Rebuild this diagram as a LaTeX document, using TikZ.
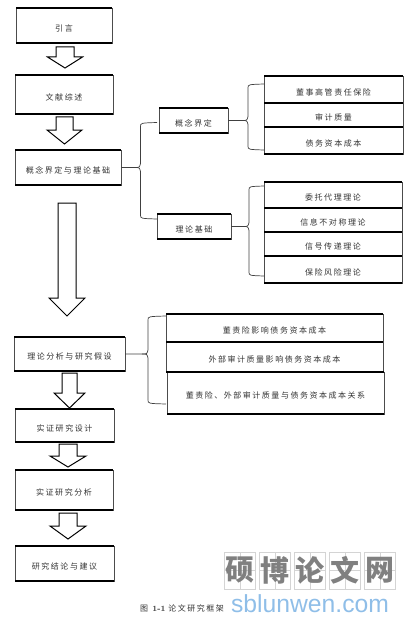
\documentclass[tikz,border=0pt]{standalone}
\usepackage{fontspec}
\newfontfamily\cjk[LetterSpace=19]{Noto Sans CJK SC}
\newfontfamily\markfont{Noto Sans CJK SC}
\newfontfamily\sitefont{Liberation Sans}
\usetikzlibrary{calc}
\definecolor{sitecol}{RGB}{143,190,232}
\definecolor{markline}{RGB}{212,212,212}
\newcommand{\bracelink}[4]{
  \draw[brace] let \p1=(#1.east),\p2=(#3),\p3=(#4),\n1={#2pt} in
    (\x1,\y1) -- (\n1-6pt,\y1) .. controls (\n1-1pt,\y1) .. (\n1,\y1+4pt)
    -- (\n1,\y2-4pt) .. controls (\n1,\y2-0.5pt) .. (\x2,\y2);
  \draw[brace] let \p1=(#1.east),\p2=(#3),\p3=(#4),\n1={#2pt} in
    (\n1-6pt,\y1) .. controls (\n1-1pt,\y1) .. (\n1,\y1-4pt)
    -- (\n1,\y3+4pt) .. controls (\n1,\y3+0.5pt) .. (\x3,\y3);
}
\begin{document}
\begin{tikzpicture}[x=1pt,y=-1pt,
  stagebox/.style={draw=black!70,line width=0.6pt,inner sep=0pt,outer sep=0pt,
    text=black!80,text height=11.7pt,text depth=0pt,font=\cjk\fontsize{8}{9}\selectfont,
    append after command={
      (\tikzlastnode.north west) edge[draw=black,line width=1.3pt] (\tikzlastnode.north east)
      (\tikzlastnode.south west) edge[draw=black,line width=1.3pt] (\tikzlastnode.south east)}},
  brace/.style={draw,black!75,line width=0.7pt},
  blockarrow/.style n args={3}{draw,fill=white,line width=1pt,
    to path={let \p1=(\tikztostart),\p2=(\tikztotarget) in
      (\x1-#1pt,\y1) -- (\x1+#1pt,\y1) -- (\x1+#1pt,\y2+#3pt) -- (\x1+#2pt,\y2+#3pt)
      -- (\x1,\y2) -- (\x1-#2pt,\y2+#3pt) -- (\x1-#1pt,\y2+#3pt) -- cycle}},
  markbox/.style={draw=markline,line width=0.6pt,inner sep=0pt,minimum width=31.5pt,minimum height=37pt,
    text=black!50,font=\markfont\bfseries\fontsize{29}{29}\selectfont,
    path picture={\draw[markline,line width=0.6pt] (path picture bounding box.north) -- (path picture bounding box.south)
      (path picture bounding box.west) -- (path picture bounding box.east);}}]
  \useasboundingbox (0,0) rectangle (413,623);
  \node[stagebox,minimum width=96pt,minimum height=35pt] (intro) at (64,25.5) {引言};
  \node[stagebox,minimum width=98pt,minimum height=39pt] (review) at (64,94.5) {文献综述};
  \node[stagebox,minimum width=106pt,minimum height=35pt] (basis) at (68,167.5) {概念界定与理论基础};
  \node[stagebox,minimum width=111pt,minimum height=34pt] (hypo) at (69.5,354) {理论分析与研究假设};
  \node[stagebox,minimum width=99pt,minimum height=33pt] (design) at (64.5,425.5) {实证研究设计};
  \node[stagebox,minimum width=98pt,minimum height=40pt] (analysis) at (64,490) {实证研究分析};
  \node[stagebox,minimum width=99pt,minimum height=35pt] (concl) at (64.5,563.5) {研究结论与建议};

  \node[stagebox,minimum width=69pt,minimum height=25pt] (concept) at (193.5,120.5) {概念界定};
  \node[stagebox,minimum width=74pt,minimum height=25pt] (theory) at (194,226.5) {理论基础};

  \node[stagebox,minimum width=139pt,minimum height=27pt] (dno) at (333.5,89.5) {董事高管责任保险};
  \node[stagebox,minimum width=139pt,minimum height=24pt] (audit) at (333.5,115) {审计质量};
  \node[stagebox,minimum width=139pt,minimum height=27pt] (debt) at (333.5,140.5) {债务资本成本};

  \node[stagebox,minimum width=138pt,minimum height=26pt] (agency) at (333,195) {委托代理理论};
  \node[stagebox,minimum width=138pt,minimum height=24pt] (asym) at (333,220) {信息不对称理论};
  \node[stagebox,minimum width=138pt,minimum height=24pt] (signal) at (333,244) {信号传递理论};
  \node[stagebox,minimum width=138pt,minimum height=27pt] (risk) at (333,269.5) {保险风险理论};

  \node[stagebox,minimum width=217pt,minimum height=28pt] (h1) at (274.5,328) {董责险影响债务资本成本};
  \node[stagebox,minimum width=217pt,minimum height=30pt] (h2) at (274.5,357) {外部审计质量影响债务资本成本};
  \node[stagebox,minimum width=217pt,minimum height=42pt] (h3) at (275.5,393) {董责险、外部审计质量与债务资本成本关系};

  \draw[blockarrow={9}{17.5}{11}] ($(intro.south)+(1,4)$) to ($(review.north)+(1,-7)$);
  \draw[blockarrow={8.5}{17.5}{14}] ($(review.south)+(0.5,3)$) to ($(basis.north)+(-3.5,-6)$);
  \draw[blockarrow={9}{18}{18}] ($(basis.south)+(-1,18)$) to ($(hypo.north)+(-2.5,-21)$);
  \draw[blockarrow={7.5}{15.5}{15}] ($(hypo.south)+(0,2)$) to ($(design.north)+(5,-1)$);
  \draw[blockarrow={9}{18}{11}] ($(design.south)+(3.5,2)$) to ($(analysis.north)+(4,-3)$);
  \draw[blockarrow={9}{18}{13}] ($(analysis.south)+(4,3)$) to ($(concl.north)+(3.5,-7)$);

  \coordinate (basistop) at (157,122.5);
  \coordinate (basisbot) at (157,219);
  \coordinate (concepttop) at (264,84);
  \coordinate (conceptbot) at (264,150);
  \coordinate (theorytop) at (264,186);
  \coordinate (theorybot) at (264,276);
  \coordinate (hypotop) at (166,316);
  \coordinate (hypobot) at (166,404);
  \bracelink{basis}{140.5}{basistop}{basisbot}
  \bracelink{concept}{248}{concepttop}{conceptbot}
  \bracelink{theory}{249}{theorytop}{theorybot}
  \bracelink{hypo}{148}{hypotop}{hypobot}

  \foreach \i/\ch [count=\n from 0] in {a/硕,b/博,c/论,d/文,e/网}
    \node[markbox] (mark\i) at (240+35*\n,570.5) {\ch};
  \node[inner sep=0pt,text=sitecol,font=\sitefont\fontsize{24.7}{26}\selectfont] (site) at (310,604) {sblunwen.com};
  \node[inner sep=0pt,text=black!80,font=\fontsize{8}{9}\selectfont] (caption) at (182,608) {{\cjk 图} \textbf{1-1} {\cjk 论文研究框架}};
\end{tikzpicture}
\end{document}
